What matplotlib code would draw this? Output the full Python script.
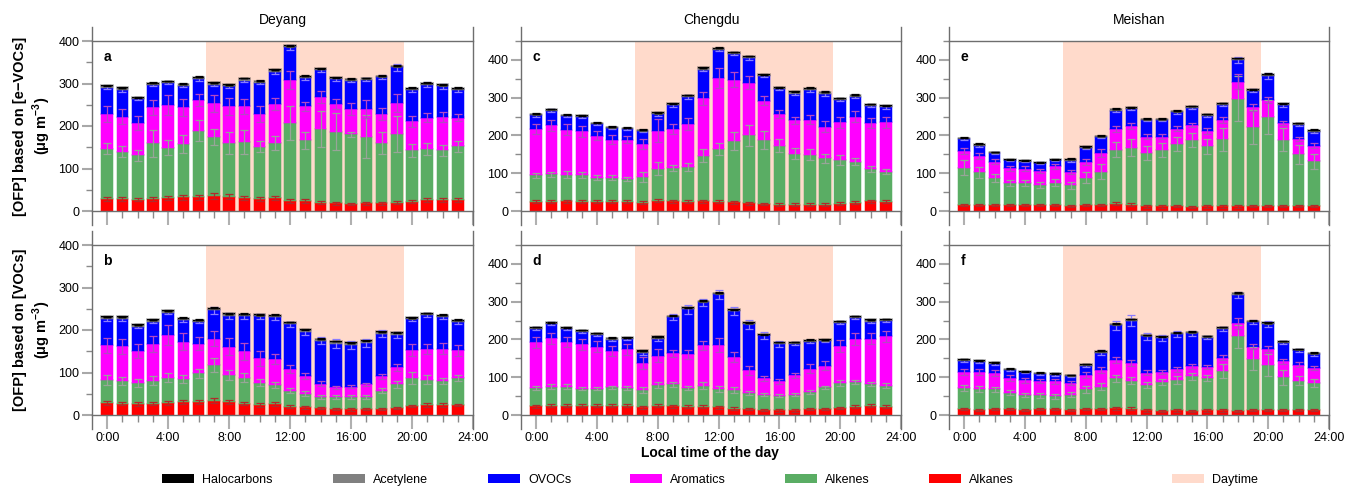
import matplotlib.pyplot as plt
import numpy as np
from matplotlib.patches import Rectangle
from matplotlib.ticker import MultipleLocator, FixedLocator
from matplotlib.colors import to_rgba

plt.rcParams['font.family'] = ['Liberation Sans', 'DejaVu Sans']
plt.rcParams['mathtext.fontset'] = 'custom'
plt.rcParams['mathtext.rm'] = 'Liberation Sans'
plt.rcParams['mathtext.bf'] = 'Liberation Sans:bold'

hours = np.arange(24)
sites = ['Deyang', 'Chengdu', 'Meishan']
groups = ['Alkanes', 'Alkenes', 'Aromatics', 'OVOCs', 'Acetylene', 'Halocarbons']
colors = ['#ff0000', '#5aad64', '#ff00ff', '#0000ff', '#808080', '#000000']
err_colors = ['#b02a2a', '#98a598', '#b548c4', '#8a7cff', '#505050', '#000000']
day_start, day_end = 6.5, 19.5

# Deyang, OFP from e-VOCs (panel a)
a_alkanes = [28, 28, 27, 28, 31, 32, 32, 36, 34, 30, 28, 30, 24, 24, 20, 18, 17, 18, 18, 20, 22, 26, 26, 26]
a_alkenes = [118, 112, 104, 131, 118, 126, 157, 138, 126, 133, 123, 130, 182, 142, 173, 169, 164, 157, 142, 161, 121, 119, 117, 126]
a_aromatics = [82, 82, 76, 85, 101, 86, 73, 79, 86, 83, 78, 91, 103, 80, 75, 65, 59, 65, 68, 74, 68, 75, 78, 68]
a_ovocs = [62, 63, 57, 53, 51, 51, 48, 44, 47, 61, 73, 75, 76, 66, 63, 58, 67, 69, 87, 83, 74, 77, 72, 65]
a_acetylene = [4, 4, 3, 3, 3, 3, 4, 4, 3, 4, 3, 5, 3, 4, 3, 3, 3, 3, 2, 3, 3, 3, 3, 3]
a_halocarbons = [2, 2, 1, 2, 2, 2, 2, 2, 2, 2, 2, 2, 2, 2, 2, 2, 1, 1, 1, 1, 2, 2, 2, 2]
a_err_alkanes = [5, 4, 4, 4, 5, 5, 5, 7, 6, 5, 5, 5, 4, 4, 3, 3, 3, 3, 3, 3, 3, 4, 4, 4]
a_err_alkenes = [13, 14, 13, 32, 17, 21, 24, 19, 26, 28, 13, 17, 40, 21, 43, 43, 6, 51, 25, 42, 15, 14, 13, 12]
a_err_aromatics = [18, 18, 16, 17, 24, 20, 14, 19, 21, 18, 19, 14, 21, 11, 15, 11, 14, 22, 14, 21, 13, 10, 12, 9]
a_err_ovocs = [4, 4, 3, 3, 3, 3, 4, 3, 4, 4, 3, 4, 5, 3, 4, 3, 3, 4, 5, 9, 4, 6, 5, 4]

# Deyang, OFP from VOCs (panel b)
b_alkanes = [28, 27, 26, 27, 28, 31, 31, 34, 31, 27, 24, 26, 20, 18, 16, 14, 13, 14, 14, 17, 21, 24, 24, 24]
b_alkenes = [55, 53, 50, 54, 60, 54, 67, 83, 63, 61, 52, 44, 37, 32, 27, 28, 30, 29, 43, 55, 66, 59, 56, 63]
b_aromatics = [81, 82, 75, 86, 100, 87, 70, 63, 67, 62, 57, 61, 51, 41, 31, 23, 24, 29, 34, 40, 67, 73, 76, 65]
b_ovocs = [61, 63, 56, 52, 52, 51, 51, 66, 72, 82, 99, 99, 105, 104, 101, 103, 98, 98, 100, 77, 71, 79, 74, 67]
b_acetylene = [5, 5, 4, 4, 4, 4, 3, 4, 4, 4, 3, 4, 4, 5, 3, 4, 4, 4, 4, 4, 3, 3, 4, 3]
b_halocarbons = [2, 2, 2, 2, 2, 2, 2, 2, 2, 2, 2, 2, 2, 2, 2, 2, 2, 2, 2, 2, 2, 2, 2, 2]
b_err_alkanes = [4, 4, 4, 4, 5, 4, 4, 6, 5, 4, 4, 4, 3, 3, 3, 3, 3, 3, 3, 3, 3, 4, 4, 3]
b_err_alkenes = [12, 10, 9, 10, 10, 10, 10, 16, 12, 10, 8, 7, 6, 6, 5, 5, 5, 5, 6, 8, 14, 10, 8, 8]
b_err_aromatics = [18, 18, 16, 18, 24, 20, 15, 18, 20, 20, 17, 12, 10, 7, 5, 4, 4, 4, 6, 8, 14, 12, 13, 12]
b_err_ovocs = [3, 3, 3, 3, 3, 3, 3, 8, 7, 5, 5, 6, 6, 6, 8, 10, 10, 9, 8, 7, 4, 4, 5, 4]

# Chengdu, OFP from e-VOCs (panel c)
c_alkanes = [24, 25, 26, 25, 25, 25, 25, 22, 27, 26, 25, 26, 25, 23, 20, 18, 17, 17, 17, 17, 19, 22, 26, 24]
c_alkenes = [70, 72, 70, 71, 63, 63, 60, 68, 85, 87, 92, 120, 139, 162, 180, 170, 156, 135, 132, 122, 116, 109, 85, 80]
c_aromatics = [123, 130, 119, 115, 111, 101, 104, 88, 101, 104, 113, 152, 188, 163, 140, 104, 84, 88, 93, 84, 100, 119, 122, 131]
c_ovocs = [36, 38, 36, 38, 31, 30, 29, 33, 43, 63, 72, 76, 74, 68, 64, 65, 66, 71, 77, 88, 59, 53, 44, 39]
c_acetylene = [3, 3, 3, 3, 3, 3, 2, 3, 3, 3, 3, 4, 4, 3, 4, 3, 3, 4, 5, 3, 3, 3, 4, 4]
c_halocarbons = [2, 2, 1, 1, 1, 1, 1, 1, 2, 2, 2, 2, 2, 2, 2, 2, 1, 2, 2, 2, 2, 2, 2, 2]
c_err_alkanes = [4, 4, 4, 4, 4, 4, 4, 4, 4, 4, 4, 4, 4, 4, 4, 3, 3, 3, 3, 3, 4, 4, 4, 4]
c_err_alkenes = [6, 7, 9, 8, 7, 7, 6, 14, 17, 8, 10, 17, 17, 23, 27, 23, 17, 14, 14, 12, 12, 10, 8, 7]
c_err_aromatics = [14, 15, 14, 15, 12, 12, 10, 13, 30, 14, 15, 18, 27, 20, 17, 12, 10, 10, 12, 14, 14, 15, 12, 15]
c_err_ovocs = [3, 4, 3, 3, 3, 3, 3, 3, 4, 4, 5, 3, 3, 3, 3, 3, 2, 3, 4, 7, 3, 3, 3, 3]

# Chengdu, OFP from VOCs (panel d)
d_alkanes = [23, 25, 25, 24, 24, 25, 24, 20, 25, 23, 22, 22, 20, 17, 16, 13, 12, 12, 15, 15, 19, 22, 25, 22]
d_alkenes = [48, 50, 50, 46, 46, 48, 47, 46, 55, 58, 50, 56, 49, 49, 42, 40, 39, 42, 45, 58, 66, 65, 57, 56]
d_aromatics = [121, 128, 118, 117, 111, 97, 103, 71, 77, 82, 89, 106, 116, 87, 61, 44, 38, 51, 62, 58, 98, 114, 120, 130]
d_ovocs = [36, 38, 35, 33, 30, 29, 27, 26, 44, 96, 119, 114, 134, 122, 121, 114, 100, 84, 72, 64, 61, 56, 45, 40]
d_acetylene = [3, 3, 3, 3, 4, 4, 3, 5, 4, 3, 3, 3, 3, 3, 3, 2, 2, 2, 3, 3, 3, 3, 4, 4]
d_halocarbons = [2, 1, 1, 2, 2, 2, 2, 3, 3, 1, 2, 2, 2, 2, 2, 1, 2, 2, 2, 2, 2, 2, 2, 2]
d_err_alkanes = [4, 4, 4, 4, 4, 4, 4, 4, 5, 4, 4, 4, 4, 3, 3, 3, 3, 3, 3, 3, 3, 4, 5, 4]
d_err_alkenes = [5, 6, 6, 5, 5, 5, 5, 8, 8, 6, 5, 10, 7, 7, 5, 4, 4, 4, 5, 5, 8, 6, 6, 6]
d_err_aromatics = [14, 15, 14, 15, 14, 13, 15, 16, 18, 10, 12, 12, 18, 14, 12, 7, 7, 7, 12, 12, 15, 15, 15, 15]
d_err_ovocs = [4, 4, 3, 3, 3, 3, 3, 3, 4, 8, 12, 10, 12, 10, 12, 10, 8, 5, 4, 3, 3, 3, 3, 3]

# Meishan, OFP from e-VOCs (panel e)
e_alkanes = [15, 15, 15, 15, 15, 15, 15, 14, 16, 16, 19, 17, 12, 12, 13, 11, 12, 12, 12, 14, 14, 14, 14, 14]
e_alkenes = [99, 87, 72, 60, 58, 54, 60, 54, 72, 88, 143, 151, 142, 149, 165, 177, 159, 178, 285, 209, 235, 175, 136, 118]
e_aromatics = [45, 44, 44, 38, 39, 37, 43, 35, 42, 50, 55, 58, 43, 36, 40, 40, 41, 50, 45, 51, 44, 44, 40, 41]
e_ovocs = [31, 27, 22, 21, 19, 21, 16, 30, 36, 41, 48, 44, 43, 44, 43, 45, 40, 41, 58, 44, 64, 47, 38, 36]
e_acetylene = [3, 3, 2, 2, 2, 1, 2, 3, 3, 3, 4, 3, 3, 2, 3, 3, 3, 3, 3, 3, 4, 3, 3, 3]
e_halocarbons = [1, 2, 1, 1, 1, 1, 1, 2, 2, 1, 2, 1, 1, 1, 2, 2, 2, 2, 2, 1, 2, 2, 2, 3]
e_err_alkanes = [3, 3, 3, 3, 3, 3, 3, 3, 3, 3, 4, 4, 3, 3, 3, 3, 3, 3, 3, 3, 3, 3, 3, 3]
e_err_alkenes = [20, 15, 10, 8, 8, 7, 10, 10, 15, 20, 20, 22, 18, 18, 18, 18, 20, 30, 60, 45, 45, 30, 25, 20]
e_err_aromatics = [8, 8, 7, 7, 6, 5, 6, 6, 7, 10, 8, 8, 7, 6, 6, 6, 7, 8, 20, 8, 8, 6, 6, 6]
e_err_ovocs = [3, 3, 2, 2, 2, 2, 2, 3, 3, 3, 4, 3, 3, 3, 3, 3, 3, 3, 7, 4, 8, 4, 3, 3]

# Meishan, OFP from VOCs (panel f)
f_alkanes = [15, 14, 16, 16, 14, 15, 15, 13, 15, 16, 18, 17, 12, 11, 12, 11, 12, 12, 11, 13, 14, 14, 14, 14]
f_alkenes = [56, 55, 52, 43, 39, 37, 34, 41, 53, 59, 79, 74, 68, 76, 80, 91, 85, 105, 197, 136, 118, 86, 77, 70]
f_aromatics = [44, 45, 43, 39, 39, 38, 40, 31, 38, 44, 48, 47, 32, 27, 29, 27, 30, 35, 35, 32, 42, 42, 42, 40]
f_ovocs = [28, 26, 24, 22, 21, 18, 17, 18, 24, 46, 92, 112, 96, 90, 93, 87, 78, 76, 75, 66, 66, 49, 38, 37]
f_acetylene = [3, 3, 3, 2, 2, 3, 3, 2, 3, 3, 3, 2, 3, 3, 3, 3, 3, 3, 4, 2, 3, 3, 2, 2]
f_halocarbons = [2, 2, 1, 1, 1, 1, 1, 1, 2, 2, 2, 2, 1, 1, 1, 2, 1, 2, 2, 1, 2, 2, 2, 2]
f_err_alkanes = [3, 3, 3, 3, 3, 3, 3, 3, 3, 3, 4, 4, 3, 3, 3, 3, 3, 3, 3, 3, 3, 3, 3, 3]
f_err_alkenes = [8, 8, 7, 7, 6, 6, 6, 6, 10, 10, 10, 10, 8, 8, 10, 10, 8, 18, 30, 30, 30, 20, 12, 10]
f_err_aromatics = [8, 8, 8, 8, 7, 6, 6, 6, 7, 8, 8, 8, 7, 6, 6, 6, 6, 7, 15, 7, 8, 6, 6, 6]
f_err_ovocs = [3, 3, 3, 3, 3, 3, 3, 3, 3, 6, 12, 14, 10, 8, 8, 6, 5, 5, 8, 5, 8, 4, 4, 4]

minor_err = [1] * 24

panels = {
    'a': ([a_alkanes, a_alkenes, a_aromatics, a_ovocs, a_acetylene, a_halocarbons],
          [a_err_alkanes, a_err_alkenes, a_err_aromatics, a_err_ovocs, minor_err, minor_err]),
    'b': ([b_alkanes, b_alkenes, b_aromatics, b_ovocs, b_acetylene, b_halocarbons],
          [b_err_alkanes, b_err_alkenes, b_err_aromatics, b_err_ovocs, minor_err, minor_err]),
    'c': ([c_alkanes, c_alkenes, c_aromatics, c_ovocs, c_acetylene, c_halocarbons],
          [c_err_alkanes, c_err_alkenes, c_err_aromatics, c_err_ovocs, minor_err, minor_err]),
    'd': ([d_alkanes, d_alkenes, d_aromatics, d_ovocs, d_acetylene, d_halocarbons],
          [d_err_alkanes, d_err_alkenes, d_err_aromatics, d_err_ovocs, minor_err, minor_err]),
    'e': ([e_alkanes, e_alkenes, e_aromatics, e_ovocs, e_acetylene, e_halocarbons],
          [e_err_alkanes, e_err_alkenes, e_err_aromatics, e_err_ovocs, minor_err, minor_err]),
    'f': ([f_alkanes, f_alkenes, f_aromatics, f_ovocs, f_acetylene, f_halocarbons],
          [f_err_alkanes, f_err_alkenes, f_err_aromatics, f_err_ovocs, minor_err, minor_err]),
}
layout = [['a', 'c', 'e'], ['b', 'd', 'f']]
ytops = {'a': 400, 'b': 400, 'c': 450, 'd': 450, 'e': 450, 'f': 450}
ylabels = ['[OFP] based on [e\u2212VOCs]\n(\u03bcg m$^{\\mathbf{-3}}$)',
           '[OFP] based on [VOCs]\n(\u03bcg m$^{\\mathbf{-3}}$)']

W, H = 1349, 488
fig = plt.figure(figsize=(W / 100, H / 100), dpi=100)

col_px = [(92, 473), (521, 901), (949, 1329)]
row_px = [(41, 211), (245, 415)]
spine_col = '#6e6e6e'


def add_panel(l, t, r, b):
    return fig.add_axes([l / W, 1 - b / H, (r - l) / W, (b - t) / H])


for ri, (top, bot) in enumerate(row_px):
    for ci, (left, right) in enumerate(col_px):
        key = layout[ri][ci]
        ax = add_panel(left, top, right, bot)
        values, errors = panels[key]

        ax.axvspan(day_start, day_end, color='#ffdacb', lw=0, zorder=0)

        bottom = np.zeros(24)
        tops = []
        for vals, col in zip(values, colors):
            vals = np.asarray(vals, dtype=float)
            ax.bar(hours, vals, bottom=bottom, width=0.76, color=col,
                   edgecolor=to_rgba(col, 0.3), linewidth=1.2, zorder=2)
            bottom = bottom + vals
            tops.append(bottom.copy())
        for top_vals, err, ecol in zip(tops, errors, err_colors):
            ax.errorbar(hours, top_vals, yerr=err, fmt='none', ecolor=ecol,
                        elinewidth=0.9, capsize=3.2, capthick=0.9, zorder=3)

        ax.set_xlim(-1, 24)
        ax.set_ylim(0, ytops[key])
        ax.yaxis.set_major_locator(MultipleLocator(100))
        ax.yaxis.set_minor_locator(MultipleLocator(50))
        ax.xaxis.set_major_locator(FixedLocator(np.arange(0, 25, 4)))
        ax.xaxis.set_minor_locator(FixedLocator(hours))
        ax.tick_params(axis='y', which='major', length=7, width=1.5, color='#a8a8a8',
                       labelsize=9, pad=2)
        ax.tick_params(axis='y', which='minor', length=4, width=1, color='#8a8a8a')
        ax.tick_params(axis='x', which='major', length=10, width=1.5, color='#b0b0b0',
                       labelsize=9, pad=2)
        ax.tick_params(axis='x', which='minor', length=5, width=1, color='#8a8a8a')
        if ri == 1:
            ax.set_xticklabels(['%d:00' % h for h in range(0, 25, 4)])
        else:
            ax.set_xticklabels([])

        for side in ['left', 'right']:
            ax.spines[side].set_visible(False)
        for side in ['top', 'bottom']:
            ax.spines[side].set_color(spine_col)
            ax.spines[side].set_linewidth(1)
        ext = 14 / (bot - top)
        for xs in (0, 1):
            ax.plot([xs, xs], [-ext, 1 + ext], transform=ax.transAxes,
                    clip_on=False, color=spine_col, lw=1, zorder=5)

        ax.text(0.03, 0.905, key, transform=ax.transAxes, fontsize=10,
                fontweight='bold', va='center', ha='left')
        if ri == 0:
            ax.set_title(sites[ci], fontsize=10, pad=12)
        if ci == 0:
            ax.set_ylabel(ylabels[ri], fontsize=10.5, fontweight='bold', linespacing=1.2)
            ax.yaxis.set_label_coords(-0.103, 0.5)

fig.text(710 / W, 1 - 453 / H, 'Local time of the day', ha='center', va='center',
         fontsize=10, fontweight='bold')

# legend row along the bottom
legend_items = [('Halocarbons', colors[5], 162), ('Acetylene', colors[4], 333),
                ('OVOCs', colors[3], 488), ('Aromatics', colors[2], 630),
                ('Alkenes', colors[1], 785), ('Alkanes', colors[0], 929),
                ('Daytime', '#ffdacb', 1172)]
for label, col, x in legend_items:
    fig.add_artist(Rectangle((x / W, 1 - 483 / H), 32 / W, 9 / H,
                             transform=fig.transFigure, color=col, lw=0))
    fig.text((x + 40) / W, 1 - 483 / H, label, ha='left', va='baseline', fontsize=9)

fig.savefig('out.png', dpi=100)
